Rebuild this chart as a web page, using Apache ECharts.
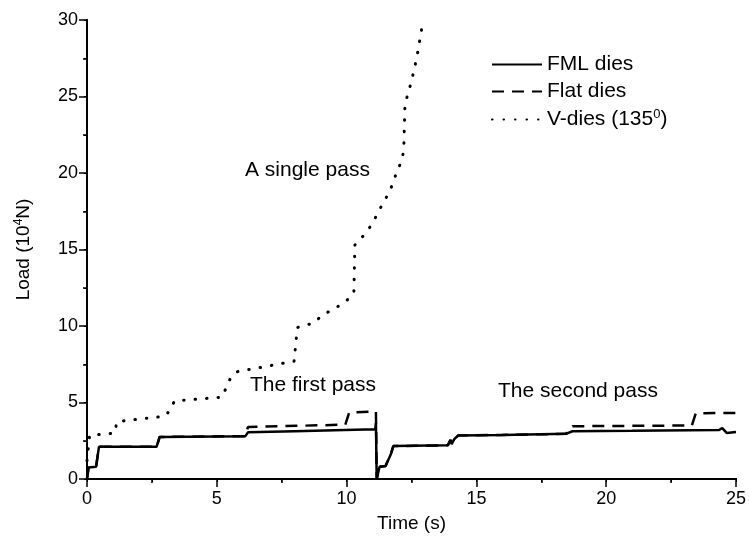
<!DOCTYPE html>
<html>
<head>
<meta charset="utf-8">
<script src="https://cdn.jsdelivr.net/npm/echarts@6/dist/echarts.min.js"></script>
<style>
  html, body { margin: 0; padding: 0; background: #fff; }
  #main { width: 749px; height: 548px; }
</style>
</head>
<body>
<div id="main"></div>
<script>
// time (s), load (10^4 N)
var fmlTime = [0, 0.06, 0.35, 0.46, 2.68, 2.8, 6.1, 6.2, 8, 11.1, 11.13, 11.16, 11.27, 11.5, 11.7, 11.8, 13.9, 14.0, 14.05, 14.15, 14.3, 16, 18.45, 18.7, 21, 24.35, 24.47, 24.65, 25];
var fmlLoad = [0, 0.75, 0.8, 2.1, 2.1, 2.75, 2.8, 3.05, 3.12, 3.25, 3.65, 0, 0.8, 0.85, 1.6, 2.15, 2.2, 2.55, 2.3, 2.6, 2.85, 2.88, 2.95, 3.12, 3.15, 3.2, 3.33, 3.0, 3.07];

var flatTime = [0, 0.06, 0.35, 0.46, 2.68, 2.8, 6.1, 6.2, 9.95, 10.1, 11.13, 11.16, 11.27, 11.5, 11.7, 11.8, 13.9, 14.0, 14.05, 14.15, 14.3, 16, 18.45, 18.7, 23.3, 23.45, 25];
var flatLoad = [0, 0.75, 0.8, 2.1, 2.1, 2.75, 2.8, 3.4, 3.55, 4.35, 4.42, 0, 0.8, 0.85, 1.6, 2.15, 2.2, 2.55, 2.3, 2.6, 2.85, 2.88, 2.95, 3.45, 3.5, 4.3, 4.32];

var vTime = [0, 0.1, 1.07, 1.15, 3.0, 3.2, 3.37, 5.2, 5.5, 5.75, 7.98, 8.1, 8.74, 9.05, 9.5, 9.97, 10.28, 10.32, 10.7, 11.0, 11.23, 11.5, 11.73, 11.9, 12.08, 12.2, 12.25, 12.5, 12.7, 12.95];
var vLoad = [1.2, 2.85, 3.0, 3.75, 4.1, 4.5, 5.1, 5.35, 6.5, 7.0, 7.7, 9.9, 10.2, 10.7, 11.1, 11.6, 12.15, 15.3, 16.0, 16.7, 17.5, 18.3, 19.1, 19.9, 20.65, 21.4, 24.5, 26.0, 27.5, 30];

var seriesNames = ['FML dies', 'Flat dies', 'V-dies (135{sup|0})'];
var notes = ['A single pass', 'The first pass', 'The second pass'];

function pairs(xs, ys) {
    var out = [];
    for (var i = 0; i < xs.length; i++) {
        out.push([xs[i], ys[i]]);
    }
    return out;
}

var chart = echarts.init(document.getElementById('main'));
var font = 'Liberation Sans, Arial, sans-serif';

var option = {
    animation: false,
    backgroundColor: '#fff',
    textStyle: { fontFamily: font, color: '#000' },
    grid: { left: 87, right: 10, top: 20, bottom: 69 },
    legend: {
        orient: 'vertical',
        left: 486,
        top: 49,
        itemWidth: 50,
        itemHeight: 14,
        itemGap: 6,
        data: ['FML dies', 'Flat dies', 'V-dies'],
        itemStyle: { opacity: 0 },
        formatter: function (name) {
            return name === 'V-dies' ? seriesNames[2] : name;
        },
        textStyle: {
            fontSize: 21, color: '#000', fontFamily: font,
            rich: { sup: { fontSize: 13, padding: [0, 0, 10, 0], fontFamily: font } }
        }
    },
    xAxis: [{
        type: 'value',
        min: 0, max: 25, interval: 5,
        name: 'Time (s)',
        nameLocation: 'middle',
        nameGap: 35,
        nameTextStyle: { fontSize: 19, color: '#000' },
        axisLine: { onZero: false, lineStyle: { color: '#000', width: 2 } },
        axisTick: { length: 8, lineStyle: { color: '#000', width: 1.5 } },
        minorTick: { show: true, splitNumber: 2, length: 4, lineStyle: { color: '#000', width: 1.5 } },
        axisLabel: { fontSize: 18, color: '#000', margin: 11 },
        splitLine: { show: false }
    }, {
        type: 'value', position: 'top',
        min: 0, max: 25, interval: 5,
        axisLine: { lineStyle: { color: '#000', width: 2 } },
        axisTick: { inside: true, length: 3, lineStyle: { color: '#000' } },
        minorTick: { show: true, splitNumber: 2, length: 3, lineStyle: { color: '#000' } },
        axisLabel: { show: false },
        splitLine: { show: false }
    }],
    yAxis: [{
        type: 'value',
        min: 0, max: 30, interval: 5,
        name: 'Load (10{sup|4}N)',
        nameLocation: 'middle',
        nameGap: 52,
        nameRotate: 90,
        nameTextStyle: {
            fontSize: 19, color: '#000',
            rich: { sup: { fontSize: 12, padding: [0, 0, 10, 0], fontFamily: font } }
        },
        axisLine: { onZero: false, lineStyle: { color: '#000', width: 2 } },
        axisTick: { length: 8, lineStyle: { color: '#000', width: 1.5 } },
        minorTick: { show: true, splitNumber: 2, length: 4, lineStyle: { color: '#000', width: 1.5 } },
        axisLabel: { fontSize: 18, color: '#000', margin: 9 },
        splitLine: { show: false }
    }, {
        type: 'value', position: 'right',
        min: 0, max: 30, interval: 5,
        axisLine: { show: true, lineStyle: { color: '#000', width: 2 } },
        axisTick: { show: true, inside: true, length: 3, lineStyle: { color: '#000' } },
        minorTick: { show: true, splitNumber: 2, length: 3, lineStyle: { color: '#000' } },
        axisLabel: { show: false },
        splitLine: { show: false }
    }],
    graphic: [
        { type: 'text', left: 245, top: 160, style: { text: notes[0], font: '21px ' + font, fill: '#000' } },
        { type: 'text', left: 250, top: 375, style: { text: notes[1], font: '21px ' + font, fill: '#000' } },
        { type: 'text', left: 498, top: 381, style: { text: notes[2], font: '21px ' + font, fill: '#000' } }
    ],
    series: [
        {
            name: 'FML dies', type: 'line', symbol: 'none',
            data: pairs(fmlTime, fmlLoad),
            lineStyle: { color: '#000', width: 2.5 },
            itemStyle: { color: '#000' },
            z: 3
        },
        {
            name: 'Flat dies', type: 'line', symbol: 'none',
            data: pairs(flatTime, flatLoad),
            lineStyle: { color: '#000', width: 2.5, type: [12, 8] },
            itemStyle: { color: '#000' },
            z: 2
        },
        {
            name: 'V-dies', type: 'line', symbol: 'none',
            data: pairs(vTime, vLoad),
            lineStyle: { color: '#000', width: 3, type: [0.5, 11], cap: 'round' },
            itemStyle: { color: '#000' },
            z: 2
        }
    ]
};
chart.setOption(option);
</script>
</body>
</html>
